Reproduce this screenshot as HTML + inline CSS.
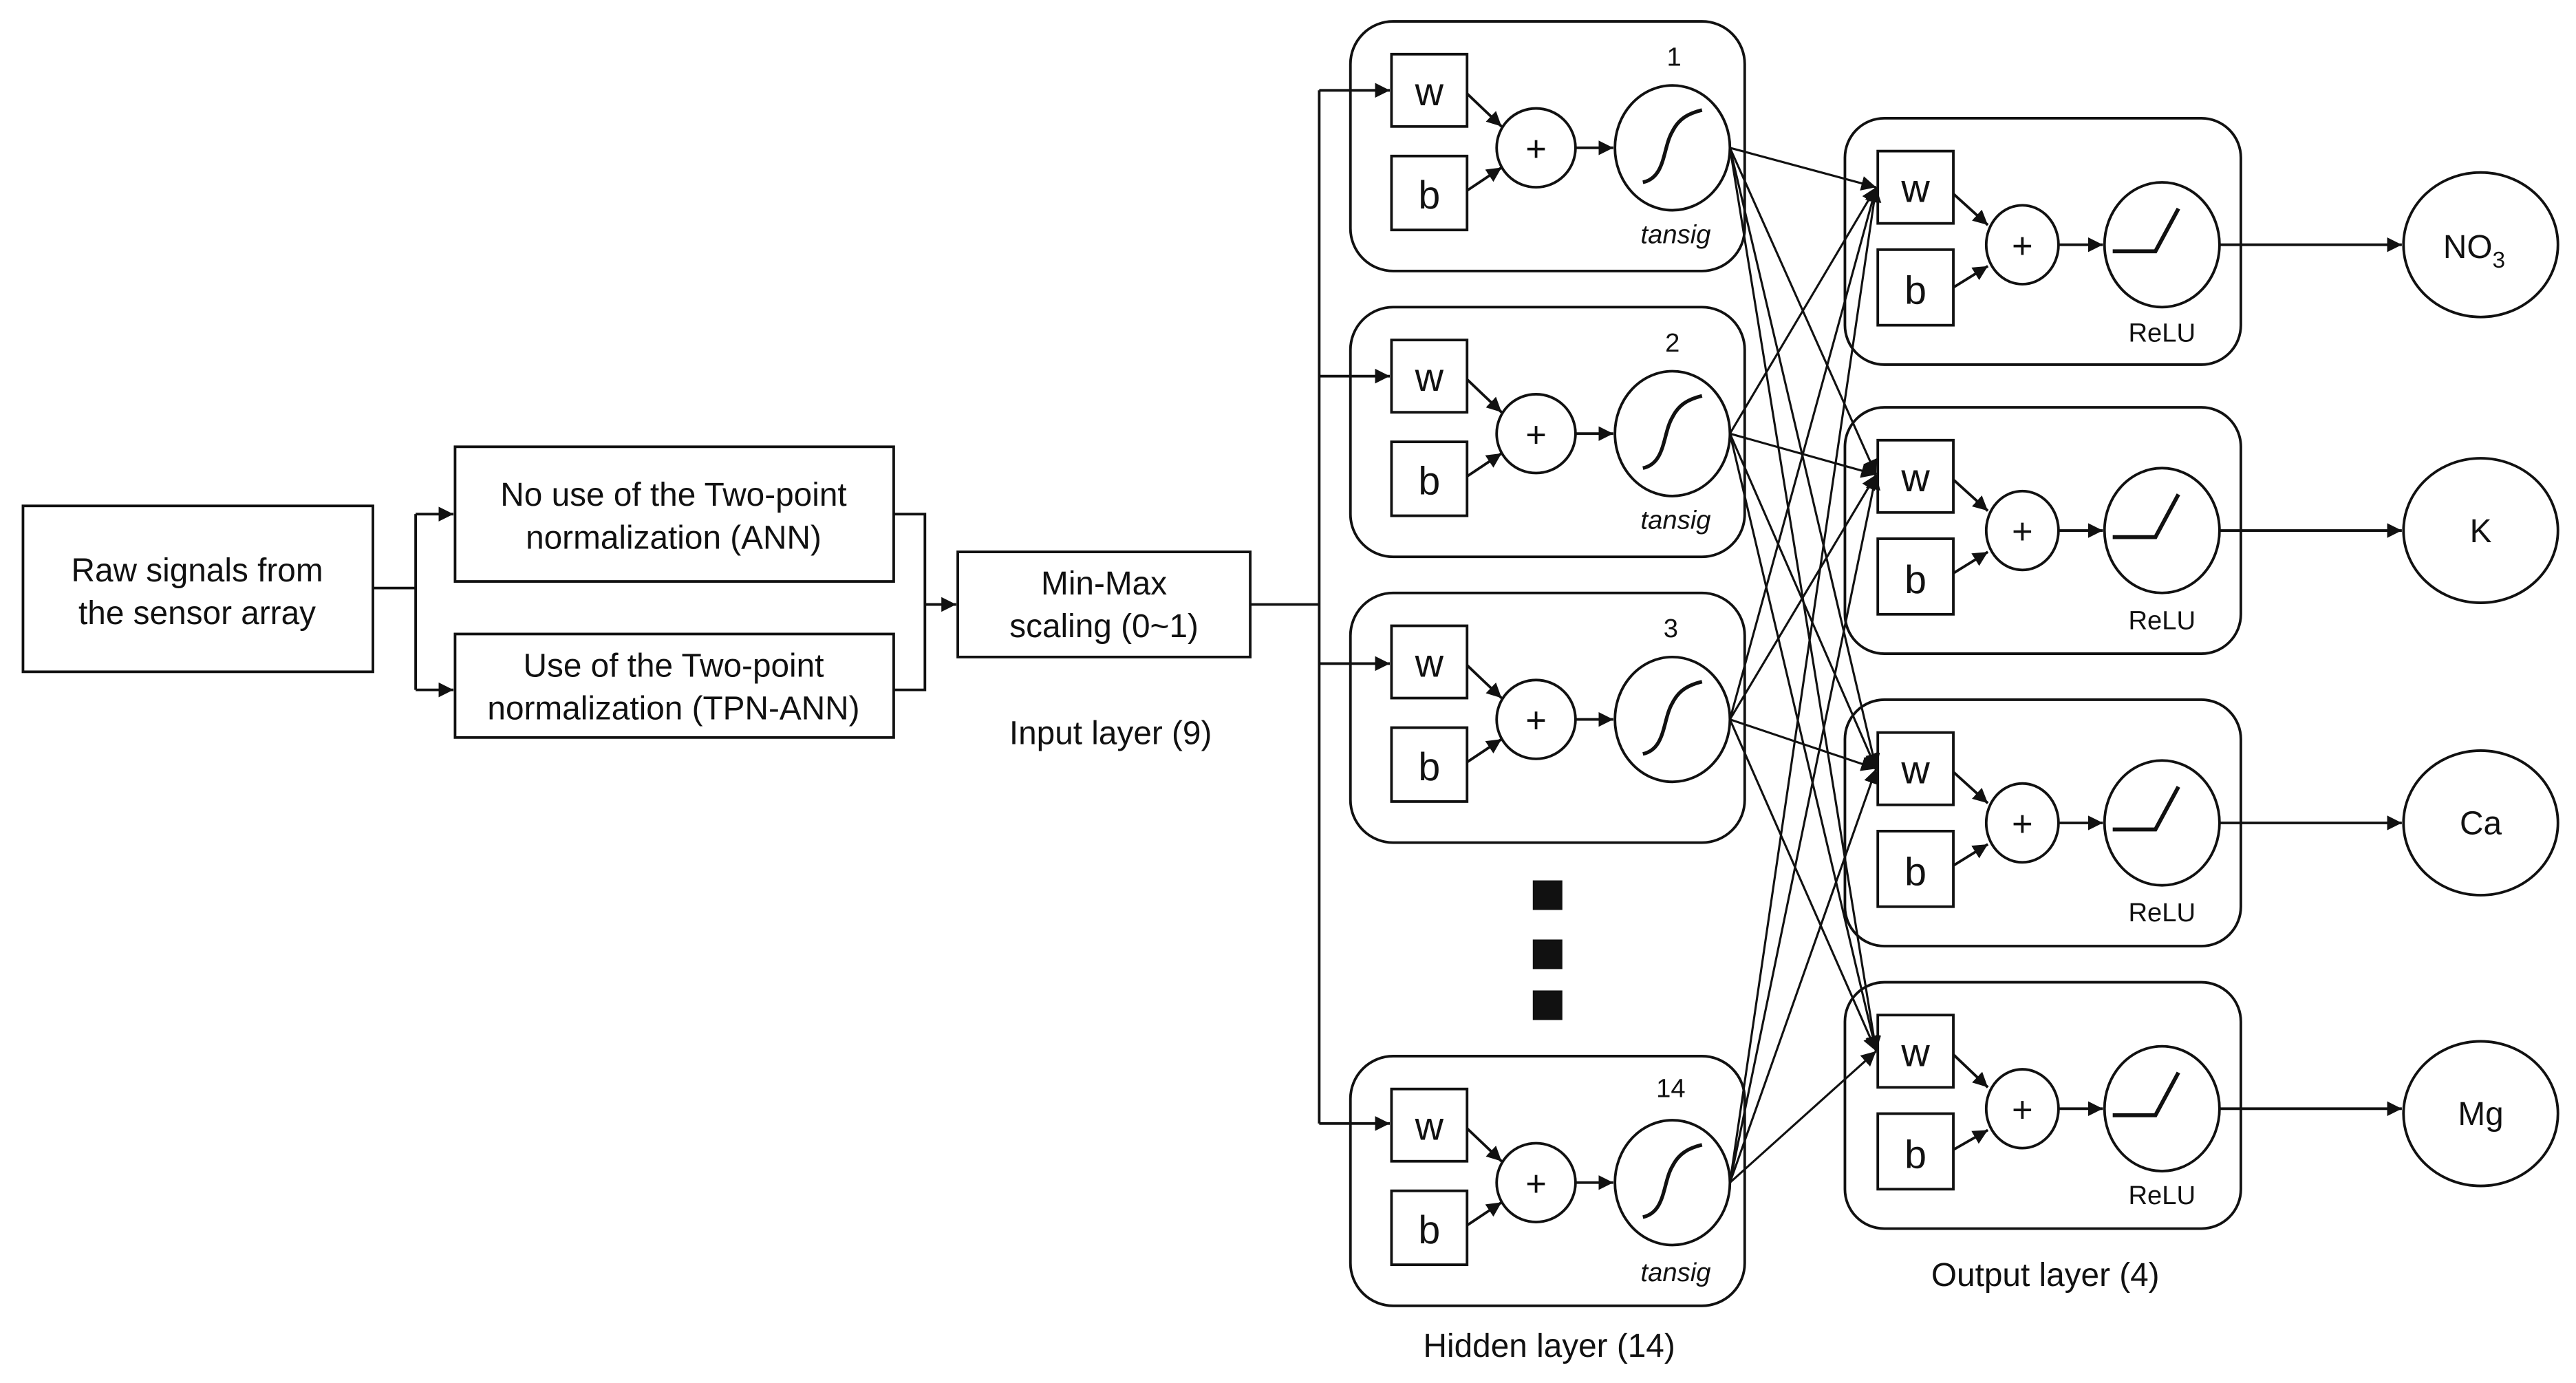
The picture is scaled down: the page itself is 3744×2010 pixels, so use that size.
<!DOCTYPE html>
<html><head><meta charset="utf-8"><style>
html,body{margin:0;padding:0;background:#fff}
svg{display:block}
text{font-family:"Liberation Sans",Arial,sans-serif;fill:#111}
</style></head><body>
<svg width="3744" height="2010" viewBox="0 0 1568 842" preserveAspectRatio="none" xmlns="http://www.w3.org/2000/svg">
<defs>
<marker id="a" viewBox="0 0 10 10" refX="10" refY="5" markerWidth="9" markerHeight="9" markerUnits="userSpaceOnUse" orient="auto">
<path d="M0,0 L10,5 L0,10 z" fill="#111"/></marker>
</defs>
<g stroke="#111" stroke-width="1.6" fill="none">
<rect x="14" y="308" width="213" height="101"/>
<rect x="277" y="272" width="267" height="82"/>
<rect x="277" y="386" width="267" height="63"/>
<rect x="583" y="336" width="178" height="64"/>
<path d="M227,358 H253 M253,313 V420"/>
<path d="M253,313 H276" marker-end="url(#a)"/>
<path d="M253,420 H276" marker-end="url(#a)"/>
<path d="M544,313 H563 V420 H544 M563,368 H582" />
<path d="M563,368 H582" marker-end="url(#a)"/>
<path d="M761,368 H803 M803,55 V684"/>
<path d="M803,55 H846" marker-end="url(#a)"/>
<path d="M803,229 H846" marker-end="url(#a)"/>
<path d="M803,404 H846" marker-end="url(#a)"/>
<path d="M803,684 H846" marker-end="url(#a)"/>
</g>
<g font-size="20" text-anchor="middle">
<text x="120" y="354">Raw signals from</text>
<text x="120" y="380">the sensor array</text>
<text x="410" y="308">No use of the Two-point</text>
<text x="410" y="334">normalization (ANN)</text>
<text x="410" y="412">Use of the Two-point</text>
<text x="410" y="438">normalization (TPN-ANN)</text>
<text x="672" y="362">Min-Max</text>
<text x="672" y="388">scaling (0~1)</text>
<text x="676" y="453">Input layer (9)</text>
<text x="943" y="826">Hidden layer (14)</text>
<text x="1245" y="783">Output layer (4)</text>
</g>
<!-- hidden boxes -->
<g id="hid">
</g>
<g stroke="#111" stroke-width="1.6" fill="none">
<!-- hidden T=13,187,361,643 -->
<rect x="822" y="13" width="240" height="152" rx="26"/>
<rect x="822" y="187" width="240" height="152" rx="26"/>
<rect x="822" y="361" width="240" height="152" rx="26"/>
<rect x="822" y="643" width="240" height="152" rx="26"/>
</g>
<g stroke="#111" stroke-width="1.6" fill="none">
<rect x="847" y="33" width="46" height="44"/><rect x="847" y="95" width="46" height="45"/>
<ellipse cx="935" cy="90" rx="24" ry="24"/><ellipse cx="1018" cy="90" rx="35" ry="38"/>
<path d="M1000,111 C1014,108 1012,90 1018,80 C1022,72 1028,69 1036,67" stroke-width="2.2"/>
<path d="M893,57 L914,77" marker-end="url(#a)"/><path d="M893,116 L914,102" marker-end="url(#a)"/><path d="M959,90 H982" marker-end="url(#a)"/>

<rect x="847" y="207" width="46" height="44"/><rect x="847" y="269" width="46" height="45"/>
<ellipse cx="935" cy="264" rx="24" ry="24"/><ellipse cx="1018" cy="264" rx="35" ry="38"/>
<path d="M1000,285 C1014,282 1012,264 1018,254 C1022,246 1028,243 1036,241" stroke-width="2.2"/>
<path d="M893,231 L914,251" marker-end="url(#a)"/><path d="M893,290 L914,276" marker-end="url(#a)"/><path d="M959,264 H982" marker-end="url(#a)"/>

<rect x="847" y="381" width="46" height="44"/><rect x="847" y="443" width="46" height="45"/>
<ellipse cx="935" cy="438" rx="24" ry="24"/><ellipse cx="1018" cy="438" rx="35" ry="38"/>
<path d="M1000,459 C1014,456 1012,438 1018,428 C1022,420 1028,417 1036,415" stroke-width="2.2"/>
<path d="M893,405 L914,425" marker-end="url(#a)"/><path d="M893,464 L914,450" marker-end="url(#a)"/><path d="M959,438 H982" marker-end="url(#a)"/>

<rect x="847" y="663" width="46" height="44"/><rect x="847" y="725" width="46" height="45"/>
<ellipse cx="935" cy="720" rx="24" ry="24"/><ellipse cx="1018" cy="720" rx="35" ry="38"/>
<path d="M1000,741 C1014,738 1012,720 1018,710 C1022,702 1028,699 1036,697" stroke-width="2.2"/>
<path d="M893,687 L914,707" marker-end="url(#a)"/><path d="M893,746 L914,732" marker-end="url(#a)"/><path d="M959,720 H982" marker-end="url(#a)"/>
</g>
<g font-size="24" text-anchor="middle">
<text x="870" y="64">w</text><text x="870" y="127">b</text>
<text x="870" y="238">w</text><text x="870" y="301">b</text>
<text x="870" y="412">w</text><text x="870" y="475">b</text>
<text x="870" y="694">w</text><text x="870" y="757">b</text>
<text x="935" y="98" font-size="22">+</text><text x="935" y="272" font-size="22">+</text>
<text x="935" y="446" font-size="22">+</text><text x="935" y="728" font-size="22">+</text>
</g>
<g font-size="16" text-anchor="middle">
<text x="1019" y="40">1</text><text x="1018" y="214">2</text><text x="1017" y="388">3</text><text x="1017" y="668">14</text>
<text x="1020" y="148" font-style="italic">tansig</text>
<text x="1020" y="322" font-style="italic">tansig</text>
<text x="1020" y="780" font-style="italic">tansig</text>
</g>
<g fill="#111">
<rect x="933" y="536" width="18" height="18"/><rect x="933" y="572" width="18" height="18"/><rect x="933" y="603" width="18" height="18"/>
</g>
<!-- cross connections -->
<g stroke="#111" stroke-width="1.3" fill="none">
<path d="M1053,90 L1142,114" marker-end="url(#a)"/><path d="M1053,90 L1142,289" marker-end="url(#a)"/><path d="M1053,90 L1142,468" marker-end="url(#a)"/><path d="M1053,90 L1142,640" marker-end="url(#a)"/>
<path d="M1053,264 L1142,114" marker-end="url(#a)"/><path d="M1053,264 L1142,289" marker-end="url(#a)"/><path d="M1053,264 L1142,468" marker-end="url(#a)"/><path d="M1053,264 L1142,640" marker-end="url(#a)"/>
<path d="M1053,438 L1142,114" marker-end="url(#a)"/><path d="M1053,438 L1142,289" marker-end="url(#a)"/><path d="M1053,438 L1142,468" marker-end="url(#a)"/><path d="M1053,438 L1142,640" marker-end="url(#a)"/>
<path d="M1053,720 L1142,114" marker-end="url(#a)"/><path d="M1053,720 L1142,289" marker-end="url(#a)"/><path d="M1053,720 L1142,468" marker-end="url(#a)"/><path d="M1053,720 L1142,640" marker-end="url(#a)"/>
</g>
<!-- output boxes T=72,248,426,598 -->
<g stroke="#111" stroke-width="1.6" fill="none">
<rect x="1123" y="72" width="241" height="150" rx="24"/>
<rect x="1123" y="248" width="241" height="150" rx="24"/>
<rect x="1123" y="426" width="241" height="150" rx="24"/>
<rect x="1123" y="598" width="241" height="150" rx="24"/>

<rect x="1143" y="92" width="46" height="44"/><rect x="1143" y="152" width="46" height="46"/>
<ellipse cx="1231" cy="149" rx="22" ry="24"/><ellipse cx="1316" cy="149" rx="35" ry="38"/>
<path d="M1286,153 H1312 L1326,127" stroke-width="2.4"/>
<path d="M1189,118 L1210,137" marker-end="url(#a)"/><path d="M1189,175 L1210,162" marker-end="url(#a)"/><path d="M1253,149 H1280" marker-end="url(#a)"/><path d="M1351,149 H1462" marker-end="url(#a)"/>

<rect x="1143" y="268" width="46" height="44"/><rect x="1143" y="328" width="46" height="46"/>
<ellipse cx="1231" cy="323" rx="22" ry="24"/><ellipse cx="1316" cy="323" rx="35" ry="38"/>
<path d="M1286,327 H1312 L1326,301" stroke-width="2.4"/>
<path d="M1189,292 L1210,311" marker-end="url(#a)"/><path d="M1189,349 L1210,336" marker-end="url(#a)"/><path d="M1253,323 H1280" marker-end="url(#a)"/><path d="M1351,323 H1462" marker-end="url(#a)"/>

<rect x="1143" y="446" width="46" height="44"/><rect x="1143" y="506" width="46" height="46"/>
<ellipse cx="1231" cy="501" rx="22" ry="24"/><ellipse cx="1316" cy="501" rx="35" ry="38"/>
<path d="M1286,505 H1312 L1326,479" stroke-width="2.4"/>
<path d="M1189,470 L1210,489" marker-end="url(#a)"/><path d="M1189,527 L1210,514" marker-end="url(#a)"/><path d="M1253,501 H1280" marker-end="url(#a)"/><path d="M1351,501 H1462" marker-end="url(#a)"/>

<rect x="1143" y="618" width="46" height="44"/><rect x="1143" y="678" width="46" height="46"/>
<ellipse cx="1231" cy="675" rx="22" ry="24"/><ellipse cx="1316" cy="675" rx="35" ry="38"/>
<path d="M1286,679 H1312 L1326,653" stroke-width="2.4"/>
<path d="M1189,642 L1210,662" marker-end="url(#a)"/><path d="M1189,700 L1210,688" marker-end="url(#a)"/><path d="M1253,675 H1280" marker-end="url(#a)"/><path d="M1351,675 H1462" marker-end="url(#a)"/>

<ellipse cx="1510" cy="149" rx="47" ry="44"/>
<ellipse cx="1510" cy="323" rx="47" ry="44"/>
<ellipse cx="1510" cy="501" rx="47" ry="44"/>
<ellipse cx="1510" cy="678" rx="47" ry="44"/>
</g>
<g font-size="24" text-anchor="middle">
<text x="1166" y="123">w</text><text x="1166" y="185">b</text>
<text x="1166" y="299">w</text><text x="1166" y="361">b</text>
<text x="1166" y="477">w</text><text x="1166" y="539">b</text>
<text x="1166" y="649">w</text><text x="1166" y="711">b</text>
<text x="1231" y="157" font-size="22">+</text><text x="1231" y="331" font-size="22">+</text>
<text x="1231" y="509" font-size="22">+</text><text x="1231" y="683" font-size="22">+</text>
</g>
<g font-size="16" text-anchor="middle">
<text x="1316" y="208">ReLU</text><text x="1316" y="383">ReLU</text><text x="1316" y="561">ReLU</text><text x="1316" y="733">ReLU</text>
</g>
<g font-size="20" text-anchor="middle">
<text x="1506" y="157">NO<tspan font-size="14" dy="6">3</tspan></text>
<text x="1510" y="330">K</text>
<text x="1510" y="508">Ca</text>
<text x="1510" y="685">Mg</text>
</g>
</svg>
</body></html>
